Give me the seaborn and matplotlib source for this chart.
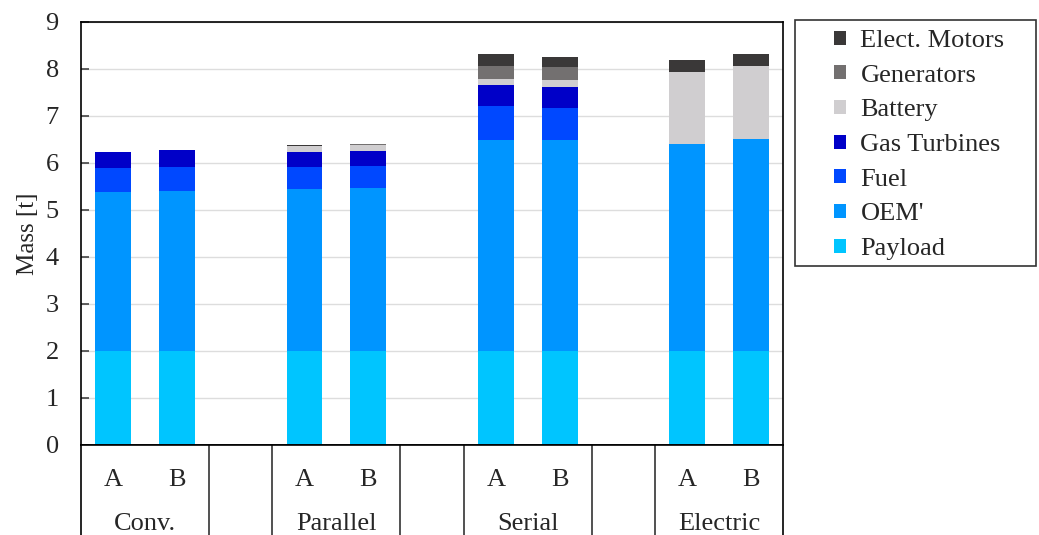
import numpy as np
import pandas as pd
import matplotlib
matplotlib.use("Agg")
import matplotlib.pyplot as plt
import seaborn as sns
from matplotlib.patches import Patch, Rectangle

groups = ["Conv.", "Parallel", "Serial", "Electric"]
variants = ["A", "B"]
components = ["Elect. Motors", "Generators", "Battery", "Gas Turbines", "Fuel", "OEM'", "Payload"]
colors = ["#3A3838", "#737070", "#D0CED0", "#0000C8", "#0048FF", "#0095FF", "#00C5FF"]

# values per bar: Conv A, Conv B, Parallel A, Parallel B, Serial A, Serial B, Electric A, Electric B
payload   = [2.00, 2.00, 2.00, 2.00, 2.00, 2.00, 2.00, 2.00]
oem       = [3.37, 3.41, 3.45, 3.47, 4.49, 4.49, 4.41, 4.50]
fuel      = [0.51, 0.51, 0.47, 0.47, 0.71, 0.68, 0.00, 0.00]
turbines  = [0.35, 0.35, 0.32, 0.32, 0.45, 0.45, 0.00, 0.00]
battery   = [0.00, 0.00, 0.11, 0.11, 0.14, 0.15, 1.52, 1.56]
generators= [0.00, 0.00, 0.00, 0.03, 0.27, 0.26, 0.00, 0.00]
motors    = [0.00, 0.00, 0.02, 0.01, 0.25, 0.23, 0.25, 0.25]

series = {"Elect. Motors": motors, "Generators": generators, "Battery": battery,
          "Gas Turbines": turbines, "Fuel": fuel, "OEM'": oem, "Payload": payload}

rows = []
for gi, g in enumerate(groups):
    for vi, v in enumerate(variants):
        idx = gi * 2 + vi
        pos = gi * 3 + vi
        for comp in components:
            rows.append({"pos": pos, "comp": comp, "mass": series[comp][idx]})
df = pd.DataFrame(rows)

sns.set_theme(style="white")
plt.rcParams["font.family"] = ["Liberation Serif", "DejaVu Serif"]
FS = 19

fig = plt.figure(figsize=(10.39, 5.35), dpi=100)
ax = fig.add_axes([0.078, 0.169, 0.6756, 0.790])
tab = fig.add_axes([0.078, 0.0, 0.6756, 0.169])

sns.histplot(data=df, x="pos", weights="mass", hue="comp", hue_order=components,
             palette=dict(zip(components, colors)), multiple="stack", discrete=True,
             shrink=0.56, alpha=1, linewidth=0, ax=ax, legend=False)

ax.set_xlim(-0.5, 10.5)
ax.set_ylim(0, 9)
ax.set_yticks(range(0, 10))
ax.set_yticklabels([str(i) for i in range(0, 10)], fontsize=FS)
ax.set_xticks([])
ax.set_xlabel("")
ax.set_ylabel("Mass [t]", fontsize=FS - 1, labelpad=5)
ax.yaxis.grid(True, color="#DDDDDD", linewidth=1)
ax.set_axisbelow(True)
ax.tick_params(axis="y", direction="in", length=6, width=1.2, color="#444444", left=True, pad=16)
for s in ax.spines.values():
    s.set_visible(True)
    s.set_color("black")
    s.set_linewidth(1.2)

# table below
tab.set_xlim(-0.5, 10.5)
tab.set_ylim(0, 1)
tab.set_xticks([])
tab.set_yticks([])
for name, s in tab.spines.items():
    s.set_color("black")
    s.set_linewidth(1.2)
tab.spines["bottom"].set_visible(False)
for xv in [1.5, 2.5, 4.5, 5.5, 7.5, 8.5]:
    tab.axvline(xv, color="#333333", linewidth=1.2)
for gi, g in enumerate(groups):
    for vi, v in enumerate(variants):
        tab.text(gi * 3 + vi, 0.61, v, ha="center", va="center", fontsize=FS)
    tab.text(gi * 3 + 0.5, 0.12, g, ha="center", va="center", fontsize=FS)

# legend with a fixed-size frame
fig.patches.append(Rectangle((795 / 1039, 1 - 266 / 535), 241 / 1039, 246 / 535,
                             transform=fig.transFigure, fill=False, edgecolor="#333333",
                             linewidth=1.2, figure=fig))
handles = [Patch(facecolor=c, edgecolor="none") for c in colors]
leg = fig.legend(handles, components, loc="upper left", bbox_to_anchor=(834 / 1039, 1 - 30 / 535),
                 frameon=False, fontsize=FS,
                 handlelength=0.45, handleheight=0.45, handletextpad=0.55,
                 labelspacing=0.48, borderpad=0, borderaxespad=0)

fig.savefig("out.png", dpi=100)
